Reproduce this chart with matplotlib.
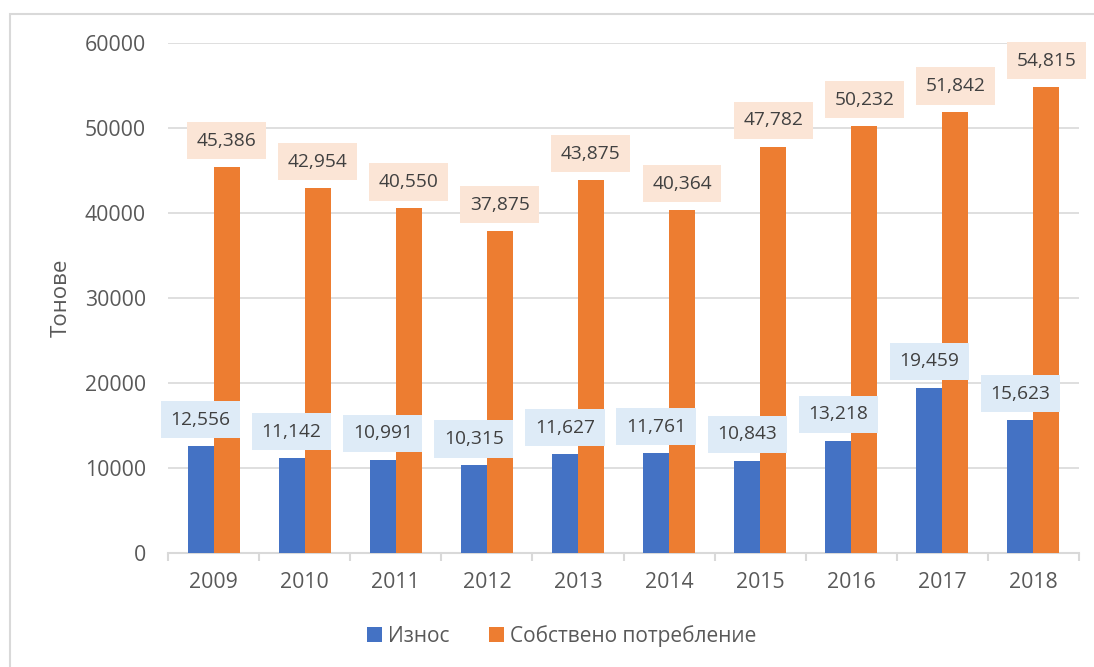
import numpy as np
import matplotlib.pyplot as plt
from matplotlib.patches import Rectangle

plt.rcParams['font.family'] = ['Open Sans', 'DejaVu Sans']

years = ['2009', '2010', '2011', '2012', '2013', '2014', '2015', '2016', '2017', '2018']
export = [12556, 11142, 10991, 10315, 11627, 11761, 10843, 13218, 19459, 15623]
own_use = [45386, 42954, 40550, 37875, 43875, 40364, 47782, 50232, 51842, 54815]

blue = '#4472C4'
orange = '#ED7D31'
grid_c = '#D9D9D9'
tick_c = '#595959'

fig = plt.figure(figsize=(10.94, 6.67), dpi=100)
ax = fig.add_axes([168 / 1094, 1 - 553 / 667, (1079 - 168) / 1094, (553 - 43) / 667])

# chart area border (only top and left visible in the reference)
fig.patches.append(Rectangle((10 / 1094, -0.1), 1.2, 1 - 14 / 667 + 0.1,
                             transform=fig.transFigure, fill=False,
                             edgecolor=grid_c, linewidth=1.5))

x = np.arange(len(years))
w = 0.285
b1 = ax.bar(x - w / 2, export, w, color=blue, label='Износ', zorder=3)
b2 = ax.bar(x + w / 2, own_use, w, color=orange, label='Собствено потребление', zorder=3)

for bars, vals, fc in [(b1, export, '#DEEBF7'), (b2, own_use, '#FBE5D6')]:
    for r, v in zip(bars, vals):
        ax.annotate(f'{v:,}', (r.get_x() + r.get_width() / 2, v),
                    xytext=(0, 19), textcoords='offset points',
                    ha='center', va='center', fontsize=13.8, color='#404040',
                    bbox=dict(boxstyle='square,pad=0.5', fc=fc, ec='none'),
                    zorder=5)

ax.set_ylim(0, 60000)
ax.set_xlim(-0.5, len(years) - 0.5)
ax.set_yticks(range(0, 60001, 10000))
ax.yaxis.grid(True, color=grid_c, linewidth=1.2, zorder=0)
ax.set_xticks(x)
ax.set_xticklabels(years)
ax.set_xticks(np.arange(-0.5, len(years)), minor=True)
ax.tick_params(axis='x', which='major', length=0, pad=14, labelsize=15.3, labelcolor=tick_c)
ax.tick_params(axis='x', which='minor', length=6, width=1.5, color=grid_c)
ax.tick_params(axis='y', length=0, pad=16, labelsize=15.3, labelcolor=tick_c)

for s in ['top', 'right', 'left']:
    ax.spines[s].set_visible(False)
ax.spines['bottom'].set_color(grid_c)
ax.spines['bottom'].set_linewidth(1.5)

ax.set_ylabel('Тонове', fontsize=16, color=tick_c, labelpad=9)

fig.legend(handles=[b1, b2], loc='center', bbox_to_anchor=(562 / 1094, 1 - 636 / 667),
           ncol=2, frameon=False, fontsize=15, labelcolor=tick_c,
           handlelength=0.7, handleheight=0.7, handletextpad=0.3, columnspacing=1.9)

fig.savefig('out.png', dpi=100)
